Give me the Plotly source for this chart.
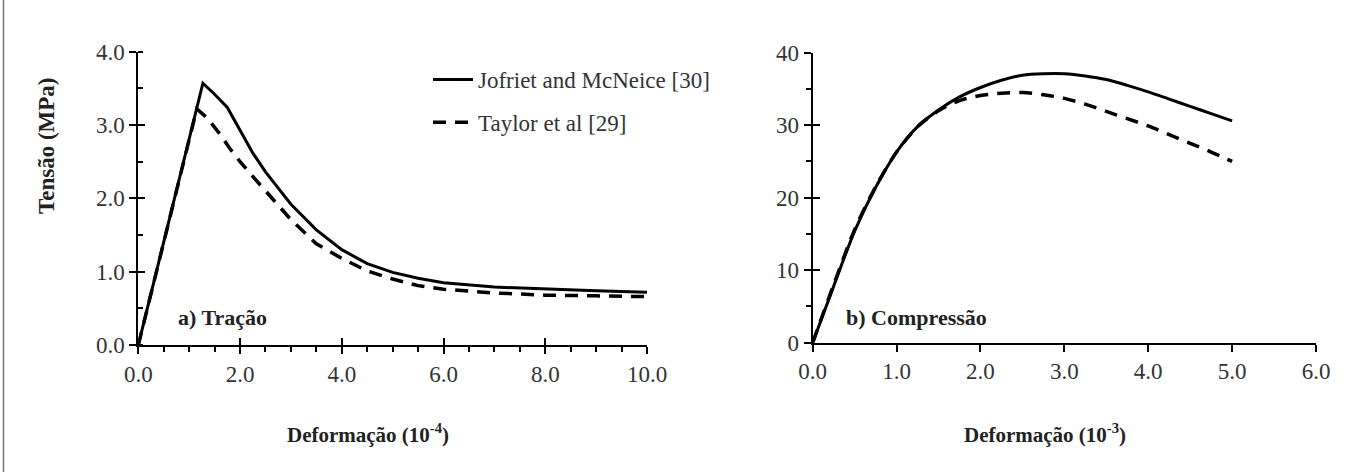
import plotly.graph_objects as go

# ---- data: a) Tração (strain 10^-4, stress MPa)
trac_jofriet_x = [0, 1.27, 1.5, 1.75, 2.0, 2.25, 2.5, 3.0, 3.5, 4.0, 4.5, 5.0, 5.5, 6.0, 7.0, 8.0, 9.0, 10.0]
trac_jofriet_y = [0, 3.57, 3.42, 3.24, 2.93, 2.62, 2.36, 1.92, 1.57, 1.30, 1.11, 0.99, 0.91, 0.85, 0.79, 0.76, 0.74, 0.72]
trac_taylor_x = [0, 0.5, 1.0, 1.15, 1.35, 1.6, 1.8, 2.0, 2.25, 2.5, 3.0, 3.5, 4.0, 4.5, 5.0, 5.5, 6.0, 7.0, 8.0, 9.0, 10.0]
trac_taylor_y = [0, 1.4, 2.8, 3.22, 3.1, 2.88, 2.68, 2.5, 2.3, 2.1, 1.71, 1.38, 1.18, 1.01, 0.90, 0.81, 0.76, 0.71, 0.68, 0.67, 0.66]

# ---- data: b) Compressão (strain 10^-3, stress MPa)
comp_x = [0, 0.25, 0.5, 0.75, 1.0, 1.25, 1.5, 1.75, 2.0, 2.25, 2.5, 2.75, 3.0, 3.25, 3.5, 3.75, 4.0, 4.25, 4.5, 4.75, 5.0]
comp_jofriet_y = [0, 7.8, 15.4, 21.4, 26.3, 29.8, 32.1, 33.9, 35.2, 36.2, 36.9, 37.1, 37.1, 36.8, 36.3, 35.5, 34.6, 33.6, 32.6, 31.6, 30.6]
comp_taylor_y = [0, 8.0, 15.6, 21.5, 26.3, 29.8, 32.0, 33.4, 34.1, 34.4, 34.5, 34.2, 33.7, 32.9, 31.9, 30.9, 29.9, 28.7, 27.5, 26.3, 25.0]

names = ["Jofriet and McNeice [30]", "Taylor et al [29]"]
left_xticks = [0, 2, 4, 6, 8, 10]
left_xticklabels = ["0.0", "2.0", "4.0", "6.0", "8.0", "10.0"]
left_yticks = [0, 1, 2, 3, 4]
left_yticklabels = ["0.0", "1.0", "2.0", "3.0", "4.0"]
right_xticks = [0, 1, 2, 3, 4, 5, 6]
right_xticklabels = ["0.0", "1.0", "2.0", "3.0", "4.0", "5.0", "6.0"]
right_yticks = [0, 10, 20, 30, 40]

SERIF = "Liberation Serif"
TXT = "#333333"
DASH = "13px,9px"

fig = go.Figure()
fig.add_trace(go.Scatter(x=trac_jofriet_x, y=trac_jofriet_y, mode="lines", name=names[0],
                         line=dict(color="black", width=3), xaxis="x", yaxis="y",
                         legendgroup="a"))
fig.add_trace(go.Scatter(x=trac_taylor_x, y=trac_taylor_y, mode="lines", name=names[1],
                         line=dict(color="black", width=3.5, dash=DASH), xaxis="x", yaxis="y",
                         legendgroup="b"))
fig.add_trace(go.Scatter(x=comp_x, y=comp_jofriet_y, mode="lines", name=names[0], showlegend=False,
                         line=dict(color="black", width=3, shape="spline", smoothing=0.8),
                         xaxis="x2", yaxis="y2"))
fig.add_trace(go.Scatter(x=comp_x, y=comp_taylor_y, mode="lines", name=names[1], showlegend=False,
                         line=dict(color="black", width=3.5, dash=DASH, shape="spline", smoothing=0.8),
                         xaxis="x2", yaxis="y2"))
# invisible traces to anchor the overlay tick axes (inner half of crossing ticks)
for xa, ya in [("x3", "y"), ("x", "y3"), ("x2", "y4")]:
    fig.add_trace(go.Scatter(x=[], y=[], xaxis=xa, yaxis=ya, showlegend=False, hoverinfo="skip"))

W, H = 1364, 472
lx = [138.3 / W, 647 / W]
ly = [1 - 345 / H, 1 - 51.7 / H]
rx = [812.7 / W, 1316 / W]
ry = [1 - 342.7 / H, 1 - 52.7 / H]

tickfont = dict(family=SERIF, size=23, color=TXT)
common = dict(showgrid=False, zeroline=False, showline=True, linecolor="black", linewidth=2,
              tickcolor="black", tickwidth=2, tickfont=tickfont, automargin=False)
overlay = dict(showticklabels=False, showline=False, showgrid=False, zeroline=False,
               automargin=False, tickcolor="black", tickwidth=2)

fig.update_layout(
    width=W, height=H, margin=dict(l=0, r=0, t=0, b=0, pad=0, autoexpand=False),
    paper_bgcolor="white", plot_bgcolor="white", showlegend=True,
    xaxis=dict(domain=lx, range=[0, 10], anchor="y", tickmode="array", tickvals=left_xticks,
               ticktext=left_xticklabels, ticks="outside", ticklen=7,
               minor=dict(dtick=0.5, ticks="outside", ticklen=5, tickcolor="black", tickwidth=2), **common),
    yaxis=dict(domain=ly, range=[0, 4], anchor="x", tickmode="array", tickvals=left_yticks,
               ticktext=left_yticklabels, ticks="outside", ticklen=7,
               minor=dict(dtick=0.5, ticks="inside", ticklen=5, tickcolor="black", tickwidth=2), **common),
    xaxis2=dict(domain=rx, range=[0, 6], anchor="y2", tickmode="array", tickvals=right_xticks,
                ticktext=right_xticklabels, ticks="outside", ticklen=7, **common),
    yaxis2=dict(domain=ry, range=[0, 40], anchor="x2", tickmode="array", tickvals=right_yticks,
                ticks="outside", ticklen=7,
                minor=dict(dtick=5, ticks="outside", ticklen=5, tickcolor="black", tickwidth=2), **common),
    xaxis3=dict(overlaying="x", range=[0, 10], anchor="y", tickmode="array", tickvals=left_xticks,
                ticks="inside", ticklen=7, **overlay),
    yaxis3=dict(overlaying="y", range=[0, 4], anchor="x", tickmode="array", tickvals=left_yticks,
                ticks="inside", ticklen=7, **overlay),
    yaxis4=dict(overlaying="y2", range=[0, 40], anchor="x2", tickmode="array", tickvals=right_yticks,
                ticks="inside", ticklen=7, **overlay),
    legend=dict(x=428 / W, y=1 - 58 / H, xanchor="left", yanchor="top",
                font=dict(family=SERIF, size=23, color=TXT), bgcolor="rgba(0,0,0,0)",
                tracegroupgap=10, itemwidth=40),
)

fig.add_annotation(text="<b>Tensão (MPa)</b>", xref="paper", yref="paper", x=47 / W, y=1 - 145 / H,
                   textangle=-90, showarrow=False, font=dict(family=SERIF, size=23, color="#222222"),
                   xanchor="center", yanchor="middle")
fig.add_annotation(text="<b>Deformação (10<sup>-4</sup>)</b>", xref="paper", yref="paper",
                   x=368 / W, y=1 - 433 / H, showarrow=False,
                   font=dict(family=SERIF, size=21, color="#222222"),
                   xanchor="center", yanchor="middle")
fig.add_annotation(text="<b>Deformação (10<sup>-3</sup>)</b>", xref="paper", yref="paper",
                   x=1045 / W, y=1 - 433 / H, showarrow=False,
                   font=dict(family=SERIF, size=21, color="#222222"),
                   xanchor="center", yanchor="middle")
fig.add_annotation(text="<b>a) Tração</b>", xref="paper", yref="paper", x=222 / W, y=1 - 317 / H,
                   showarrow=False, font=dict(family=SERIF, size=22, color="#222222"),
                   xanchor="center", yanchor="middle")
fig.add_annotation(text="<b>b) Compressão</b>", xref="paper", yref="paper", x=916 / W, y=1 - 317 / H,
                   showarrow=False, font=dict(family=SERIF, size=22, color="#222222"),
                   xanchor="center", yanchor="middle")

# thin frame line at the left edge of the picture
fig.add_shape(type="line", xref="paper", yref="paper", x0=3.5 / W, x1=3.5 / W, y0=0, y1=1,
              line=dict(color="#777777", width=1.5))

fig.write_html("out.html", config={"displayModeBar": False},
               post_script="document.body.style.margin='0';document.body.style.overflow='hidden';")
